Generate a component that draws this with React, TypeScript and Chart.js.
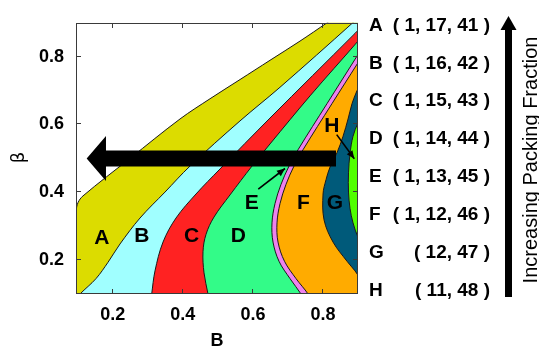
import React, { useEffect, useRef } from 'react';
import { Chart, registerables } from 'chart.js';

Chart.register(...registerables);

const FONT = "'Liberation Sans', Arial, Helvetica, sans-serif";

// Axis ranges and ticks
const xRange = [0.095, 0.9];
const yRange = [0.1, 0.9];
const xTickValues = [0.2, 0.4, 0.6, 0.8];
const yTickValues = [0.2, 0.4, 0.6, 0.8];

// Phases
const phaseNames = ['A', 'B', 'C', 'D', 'E', 'F', 'G', 'H'];
const phaseCompositions = [
  '( 1, 17, 41 )', '( 1, 16, 42 )', '( 1, 15, 43 )', '( 1, 14, 44 )',
  '( 1, 13, 45 )', '( 1, 12, 46 )', '( 12, 47 )', '( 11, 48 )',
];
const phaseColors = ['#dcdc00', '#a0ffff', '#ff2222', '#33fb88', '#ee82ee', '#ffab00', '#005a7a', '#50ff00'];

// Region outlines (B, beta); each closes around the lower-right side, outside the frame
const regionA = [[1.2, -0.2], [0.0, -0.2], [0.08, 0.22], [0.092, 0.31], [0.095, 0.344], [0.1007, 0.3695], [0.115, 0.3894], [0.2492, 0.5], [0.3919, 0.6163], [0.4775, 0.6759], [0.5632, 0.7326], [0.6488, 0.7894], [0.7345, 0.8461], [0.8115, 0.9], [0.86, 0.935], [1.2, 1.2]];
const regionB = [[1.2, -0.2], [0.09, 0.08], [0.1064, 0.1], [0.1521, 0.1454], [0.1864, 0.1936], [0.2206, 0.2475], [0.2777, 0.3241], [0.3491, 0.4007], [0.4204, 0.4773], [0.5632, 0.6106], [0.6774, 0.7099], [0.8849, 0.9], [0.92, 0.935], [1.2, 1.2]];
const regionC = [[1.2, -0.2], [0.306, 0.06], [0.3111, 0.1], [0.3205, 0.1681], [0.3434, 0.2532], [0.3805, 0.3241], [0.4376, 0.395], [0.5061, 0.4688], [0.6488, 0.6191], [0.8915, 0.8688], [0.93, 0.91], [1.2, 1.0]];
const regionD = [[1.2, -0.2], [0.478, 0.06], [0.4718, 0.1], [0.4604, 0.1624], [0.4575, 0.2248], [0.4661, 0.2759], [0.4889, 0.327], [0.5346, 0.3922], [0.5974, 0.4773], [0.6488, 0.5426], [0.763, 0.6844], [0.9, 0.8461], [0.93, 0.885], [1.2, 0.9]];
const regionE = [[1.2, -0.2], [0.75, 0.075], [0.7373, 0.1], [0.7059, 0.1454], [0.6745, 0.1965], [0.6574, 0.2532], [0.6545, 0.3099], [0.6631, 0.3667], [0.6802, 0.4234], [0.7031, 0.4773], [0.7288, 0.5255], [0.8116, 0.6617], [0.9, 0.8064], [0.92, 0.84], [1.2, 0.86]];
const regionF = [[1.2, -0.2], [0.772, 0.07], [0.7574, 0.1], [0.7231, 0.1454], [0.6902, 0.1965], [0.6717, 0.2532], [0.6688, 0.3099], [0.6774, 0.3667], [0.6945, 0.4234], [0.7173, 0.4773], [0.743, 0.5255], [0.8258, 0.6617], [0.9, 0.7823], [0.92, 0.815], [1.2, 0.83]];
const regionG = [[1.2, 0.1], [0.92, 0.125], [0.9, 0.155], [0.8915, 0.1681], [0.8687, 0.1965], [0.8287, 0.2532], [0.8031, 0.3184], [0.8002, 0.395], [0.8088, 0.4376], [0.8202, 0.4745], [0.8402, 0.517], [0.8573, 0.5652], [0.8716, 0.6163], [0.883, 0.6617], [0.8944, 0.6929], [0.9, 0.7043], [0.92, 0.72], [1.2, 0.73]];
const regionH = [[1.2, 0.2], [0.915, 0.24], [0.9, 0.2674], [0.8858, 0.3099], [0.8772, 0.3525], [0.8729, 0.4007], [0.8729, 0.4574], [0.8772, 0.5142], [0.8858, 0.5652], [0.9, 0.605], [0.915, 0.635], [1.2, 0.65]];
const regions = [regionA, regionB, regionC, regionD, regionE, regionF, regionG, regionH];

// In-plot letter labels (B, beta)
const labelX = [0.1684, 0.2826, 0.4253, 0.5583, 0.5966, 0.7439, 0.8344, 0.825];
const labelY = [0.2674, 0.2722, 0.2722, 0.2722, 0.3715, 0.3715, 0.3715, 0.5984];

// Pointer arrows (from label to thin phase)
const arrowE = [[0.6154, 0.4092], [0.6916, 0.4702]];
const arrowH = [[0.8392, 0.5701], [0.8895, 0.4991]];

// Big leftward arrow: tip, head base, tail x; at beta value
const bigArrowX = [0.1255, 0.1806, 0.8372];
const bigArrowY = 0.5;

function drawHead(ctx: CanvasRenderingContext2D, x0: number, y0: number, x1: number, y1: number, len: number, half: number) {
  const a = Math.atan2(y1 - y0, x1 - x0);
  const bx = x1 - len * Math.cos(a);
  const by = y1 - len * Math.sin(a);
  ctx.beginPath();
  ctx.moveTo(x1, y1);
  ctx.lineTo(bx + half * Math.sin(a), by - half * Math.cos(a));
  ctx.lineTo(bx - half * Math.sin(a), by + half * Math.cos(a));
  ctx.closePath();
  ctx.fill();
}

const decorPlugin = {
  id: 'phaseDecor',
  afterDraw(chart: any) {
    const { ctx, chartArea: ca, scales } = chart;
    const xs = scales.x;
    const ys = scales.y;
    ctx.save();
    ctx.setLineDash([]);
    ctx.globalAlpha = 1;
    ctx.globalCompositeOperation = 'source-over';

    // region letters
    ctx.fillStyle = '#000';
    ctx.font = `bold 21px ${FONT}`;
    ctx.textAlign = 'center';
    ctx.textBaseline = 'middle';
    phaseNames.forEach((n, i) => {
      ctx.fillText(n, xs.getPixelForValue(labelX[i]), ys.getPixelForValue(labelY[i]) + 1);
    });

    // pointer arrows
    ctx.strokeStyle = '#000';
    ctx.lineWidth = 1.6;
    [arrowE, arrowH].forEach((ar) => {
      const x0 = xs.getPixelForValue(ar[0][0]);
      const y0 = ys.getPixelForValue(ar[0][1]);
      const x1 = xs.getPixelForValue(ar[1][0]);
      const y1 = ys.getPixelForValue(ar[1][1]);
      ctx.beginPath();
      ctx.moveTo(x0, y0);
      ctx.lineTo(x1, y1);
      ctx.stroke();
      drawHead(ctx, x0, y0, x1, y1, 8, 3.5);
    });

    // big leftward arrow
    const tipX = xs.getPixelForValue(bigArrowX[0]);
    const baseX = xs.getPixelForValue(bigArrowX[1]);
    const tailX = xs.getPixelForValue(bigArrowX[2]);
    const cy = ys.getPixelForValue(bigArrowY);
    ctx.beginPath();
    ctx.moveTo(tipX, cy);
    ctx.lineTo(baseX, cy - 22.5);
    ctx.lineTo(baseX, cy - 8);
    ctx.lineTo(tailX, cy - 8);
    ctx.lineTo(tailX, cy + 8);
    ctx.lineTo(baseX, cy + 8);
    ctx.lineTo(baseX, cy + 22.5);
    ctx.closePath();
    ctx.fill();

    // axis titles
    ctx.fillStyle = '#000';
    ctx.font = `bold 18px ${FONT}`;
    ctx.textAlign = 'center';
    ctx.fillText('B', (ca.left + ca.right) / 2, 341);
    ctx.save();
    ctx.translate(19, (ca.top + ca.bottom) / 2 - 1);
    ctx.rotate(-Math.PI / 2);
    ctx.font = `18px 'DejaVu Sans', sans-serif`;
    ctx.fillText('\u03b2', 0, 0);
    ctx.restore();

    // legend list on the right
    ctx.font = `bold 19px ${FONT}`;
    ctx.textBaseline = 'middle';
    phaseNames.forEach((n, i) => {
      const yy = 25.5 + i * 37.86;
      ctx.textAlign = 'left';
      ctx.fillText(n, ca.right + 11, yy);
      ctx.textAlign = 'right';
      ctx.fillText(phaseCompositions[i], ca.right + 132, yy);
    });

    // vertical arrow
    const ax = ca.right + 150.5;
    ctx.fillRect(ax - 3.5, 29, 7, 268);
    ctx.beginPath();
    ctx.moveTo(ax, 16);
    ctx.lineTo(ax - 8, 30);
    ctx.lineTo(ax + 8, 30);
    ctx.closePath();
    ctx.fill();

    // vertical caption
    ctx.save();
    ctx.translate(ca.right + 173, 160);
    ctx.rotate(-Math.PI / 2);
    ctx.textAlign = 'center';
    ctx.font = `20px ${FONT}`;
    ctx.fillText('Increasing Packing Fraction', 0, 0);
    ctx.restore();

    // frame (solid 1px rectangles), drawn last
    const fl = Math.round(ca.left);
    const ft = Math.round(ca.top);
    const fr = Math.round(ca.right);
    const fb = Math.round(ca.bottom);
    ctx.fillStyle = '#3a3a3a';
    ctx.fillRect(fl, ft, fr - fl, 1);
    ctx.fillRect(fl, fb - 1, fr - fl, 1);
    ctx.fillRect(fl, ft, 1, fb - ft);
    ctx.fillRect(fr - 1, ft, 1, fb - ft);

    // inward mirrored ticks
    const tl = 5;
    xTickValues.forEach((v) => {
      const px = Math.round(xs.getPixelForValue(v)) - 1;
      ctx.fillRect(px, fb - tl, 1, tl);
      ctx.fillRect(px, ft, 1, tl);
    });
    yTickValues.forEach((v) => {
      const py = Math.round(ys.getPixelForValue(v)) - 1;
      ctx.fillRect(fl, py, tl, 1);
      ctx.fillRect(fr - tl, py, tl, 1);
    });

    ctx.restore();
  },
};

export default function App() {
  const ref = useRef<HTMLCanvasElement | null>(null);

  useEffect(() => {
    if (!ref.current) return;
    const datasets = regions.map((poly, i) => ({
      label: phaseNames[i],
      data: poly.map(([x, y]) => ({ x, y })),
      backgroundColor: phaseColors[i],
      borderColor: '#1a1a1a',
      borderWidth: 1,
      fill: 'shape' as const,
      pointRadius: 0,
      tension: 0.35,
      order: regions.length - i,
    }));
    const chart = new Chart(ref.current, {
      type: 'line',
      data: { datasets },
      options: {
        responsive: false,
        animation: false,
        events: [],
        layout: { padding: { left: 0, top: 12, right: 181, bottom: 0 } },
        elements: { line: { capBezierPoints: false } },
        plugins: { legend: { display: false }, tooltip: { enabled: false } },
        scales: {
          x: {
            type: 'linear',
            min: xRange[0],
            max: xRange[1],
            grid: { display: false, drawTicks: false },
            border: { display: false },
            afterBuildTicks: (s: any) => { s.ticks = xTickValues.map((v) => ({ value: v })); },
            afterFit: (s: any) => { s.height = 53; },
            ticks: {
              color: '#000',
              font: { family: FONT, size: 18, weight: 'bold' },
              padding: 10,
              maxRotation: 0,
              autoSkip: false,
              callback: (v: any) => Number(v).toFixed(1),
            },
          },
          y: {
            type: 'linear',
            min: yRange[0],
            max: yRange[1],
            grid: { display: false, drawTicks: false },
            border: { display: false },
            afterBuildTicks: (s: any) => { s.ticks = yTickValues.map((v) => ({ value: v })); },
            afterFit: (s: any) => { s.width = 76; },
            ticks: {
              color: '#000',
              font: { family: FONT, size: 18, weight: 'bold' },
              padding: 12,
              autoSkip: false,
              callback: (v: any) => Number(v).toFixed(1),
            },
          },
        },
      },
      plugins: [decorPlugin],
    } as any);
    return () => chart.destroy();
  }, []);

  return (
    <div style={{ position: 'absolute', left: 0, top: 0, width: 539, height: 347, background: '#fff' }}>
      <canvas ref={ref} width={539} height={347} style={{ display: 'block' }} />
    </div>
  );
}
